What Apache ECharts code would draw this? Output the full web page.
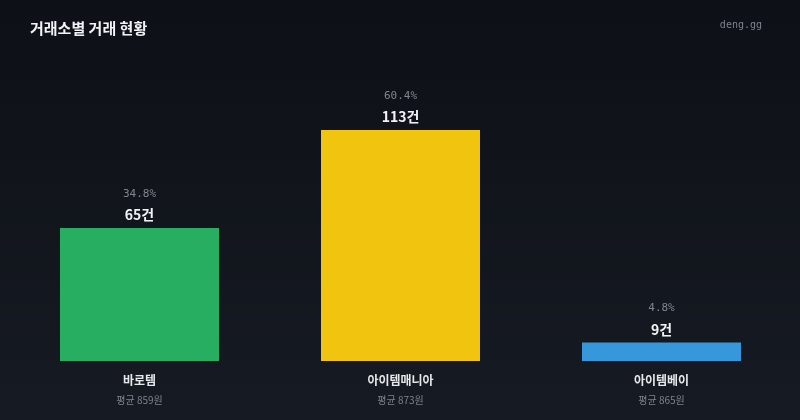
<!DOCTYPE html>
<html>
<head>
<meta charset="UTF-8">
<title>거래소별 거래 현황</title>
<script src="https://cdn.jsdelivr.net/npm/echarts@6/dist/echarts.min.js"></script>
<style>
  html, body { margin: 0; padding: 0; background: #11141b; }
  #main { width: 800px; height: 420px; }
</style>
</head>
<body>
<div id="main"></div>
<script>
// 데이터
var markets = ['바로템', '아이템매니아', '아이템베이'];
var counts = [65, 113, 9];
var shares = ['34.8%', '60.4%', '4.8%'];
var avgPrices = [859, 873, 865];
var barColors = ['#27ae60', '#f1c40f', '#3498db'];

var mono = '"DejaVu Sans Mono", "Liberation Mono", monospace';
var kr = '"Noto Sans CJK KR", "Noto Sans", sans-serif';

var chart = echarts.init(document.getElementById('main'));

var option = {
  backgroundColor: {
    type: 'linear', x: 0, y: 0, x2: 0, y2: 1,
    colorStops: [
      { offset: 0, color: '#0d1016' },
      { offset: 1, color: '#161a22' }
    ]
  },
  animation: false,
  title: {
    text: '거래소별 거래 현황',
    left: 25,
    top: 16,
    textStyle: { color: '#f0f2f5', fontSize: 15, fontWeight: 'bold', fontFamily: kr }
  },
  graphic: [{
    type: 'text',
    right: 38,
    top: 20,
    style: { text: 'deng.gg', fill: '#7d838c', font: '10px ' + mono }
  }],
  grid: { left: 9, right: 8, top: 130, bottom: 59 },
  xAxis: {
    type: 'category',
    data: markets,
    axisLine: { show: false },
    axisTick: { show: false },
    axisLabel: {
      margin: 9,
      formatter: function (v, i) {
        return '{n|' + v + '}\n{a|평균 ' + avgPrices[i] + '원}';
      },
      rich: {
        n: { color: '#e6e8eb', fontSize: 12, fontWeight: 'bold', fontFamily: kr, lineHeight: 20 },
        a: { color: '#7d838c', fontSize: 10, fontFamily: kr, lineHeight: 20 }
      }
    }
  },
  yAxis: {
    type: 'value',
    min: 0,
    max: 113,
    show: false,
    splitLine: { show: false }
  },
  series: [{
    type: 'bar',
    barWidth: 159,
    data: counts.map(function (v, i) {
      return { value: v, itemStyle: { color: barColors[i] } };
    }),
    label: {
      show: true,
      position: 'top',
      distance: 3,
      formatter: function (p) {
        return '{p|' + shares[p.dataIndex] + '}\n{c|' + p.value + '건}';
      },
      rich: {
        p: { color: '#80868f', fontSize: 11, fontFamily: mono, lineHeight: 22 },
        c: { color: '#f0f2f5', fontSize: 14, fontWeight: 'bold', fontFamily: kr, lineHeight: 20 }
      }
    }
  }]
};

chart.setOption(option);
</script>
</body>
</html>
